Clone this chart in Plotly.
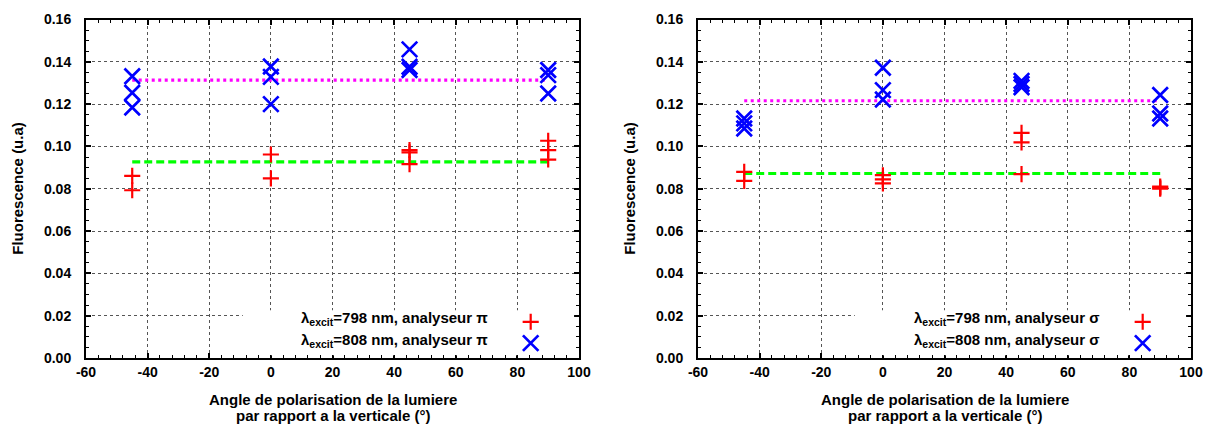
import plotly.graph_objects as go

# ---------------- data ----------------
ANGLES = [-45, 0, 45, 90]

# left panel: analyseur pi
pi_798_x = [-45, -45, 0, 0, 45, 45, 45, 90, 90, 90]
pi_798_y = [0.0861, 0.0793, 0.0962, 0.0849, 0.0983, 0.0972, 0.0916, 0.1027, 0.0983, 0.0938]
pi_808_x = [-45, -45, -45, 0, 0, 0, 45, 45, 45, 90, 90, 90]
pi_808_y = [0.1332, 0.1254, 0.1184, 0.1378, 0.1329, 0.1200, 0.1459, 0.1377, 0.1361, 0.1361, 0.1337, 0.1250]
pi_mean_798 = 0.0927
pi_mean_808 = 0.1313

# right panel: analyseur sigma
sig_798_x = [-45, -45, 0, 0, 0, 45, 45, 45, 90, 90, 90]
sig_798_y = [0.0880, 0.0837, 0.0864, 0.0844, 0.0825, 0.1064, 0.1019, 0.0869, 0.0810, 0.0805, 0.0800]
sig_808_x = [-45, -45, -45, 0, 0, 0, 45, 45, 45, 90, 90, 90]
sig_808_y = [0.1132, 0.1109, 0.1085, 0.1372, 0.1266, 0.1222, 0.1310, 0.1295, 0.1280, 0.1243, 0.1156, 0.1132]
sig_mean_798 = 0.0872
sig_mean_808 = 0.1216

FIT_X = [-45, 90]

x_ticks = [-60, -40, -20, 0, 20, 40, 60, 80, 100]
x_ticklabels = ["-60", "-40", "-20", "0", "20", "40", "60", "80", "100"]
y_ticks = [0.00, 0.02, 0.04, 0.06, 0.08, 0.10, 0.12, 0.14, 0.16]
y_ticklabels = ["0.00", "0.02", "0.04", "0.06", "0.08", "0.10", "0.12", "0.14", "0.16"]

legend_pi = ["λ<sub>excit</sub>=798 nm, analyseur π", "λ<sub>excit</sub>=808 nm, analyseur π"]
legend_sig = ["λ<sub>excit</sub>=798 nm, analyseur σ", "λ<sub>excit</sub>=808 nm, analyseur σ"]
x_title_lines = ["Angle de polarisation de la lumiere", "par rapport a la verticale (°)"]
y_title = "Fluorescence (u.a)"

# ---------------- style ----------------
W, H = 1211, 425
OFF = 8  # page body margin
FONT = "Liberation Sans, Arial, sans-serif"
RED = "#ff0000"
BLUE = "#0000ff"
GREEN = "#00ff00"
MAGENTA = "#ff00ff"
X_RANGE = [-60, 100]
Y_RANGE = [0, 0.16]

def px_x(p):
    return (p - OFF) / W

def px_y(p):
    return 1 - (p - OFF) / H

LEFT_DOM = [px_x(86), px_x(579)]
RIGHT_DOM = [px_x(698), px_x(1191)]
Y_DOM = [px_y(358), px_y(19.5)]

fig = go.Figure()

# white legend boxes (on overlay axes, drawn above the grid of the main axes)
BOX_X = [0.318, 0.99, 0.99, 0.318, 0.318]
BOX_Y = [0.008, 0.008, 0.141, 0.141, 0.008]
for xa, ya in (("x3", "y3"), ("x4", "y4")):
    fig.add_trace(go.Scatter(x=BOX_X, y=BOX_Y, xaxis=xa, yaxis=ya, mode="lines", fill="toself",
                             fillcolor="white", line=dict(width=0, color="white"),
                             showlegend=False, hoverinfo="skip"))

def add_panel(xa, ya, x798, y798, x808, y808, m798, m808):
    fig.add_trace(go.Scatter(x=FIT_X, y=[m798, m798], xaxis=xa, yaxis=ya, mode="lines",
                             line=dict(color=GREEN, width=3.2, dash="8px,4px"), showlegend=False))
    fig.add_trace(go.Scatter(x=FIT_X, y=[m808, m808], xaxis=xa, yaxis=ya, mode="lines",
                             line=dict(color=MAGENTA, width=3.2, dash="3px,3.5px"), showlegend=False))
    fig.add_trace(go.Scatter(x=x798, y=y798, xaxis=xa, yaxis=ya, mode="markers",
                             marker=dict(symbol="cross-thin", size=11.5, line=dict(color=RED, width=2.2)),
                             showlegend=False))
    fig.add_trace(go.Scatter(x=x808, y=y808, xaxis=xa, yaxis=ya, mode="markers",
                             marker=dict(symbol="x-thin", size=15.5, line=dict(color=BLUE, width=2.7)),
                             showlegend=False))

# legend keys on overlay axes (domain 0..1)
KEY_X = 0.902
KEY_Y = [0.107, 0.044]
for xa, ya in (("x3", "y3"), ("x4", "y4")):
    fig.add_trace(go.Scatter(x=[KEY_X], y=[KEY_Y[0]], xaxis=xa, yaxis=ya, mode="markers",
                             marker=dict(symbol="cross-thin", size=11.5, line=dict(color=RED, width=2.2)),
                             showlegend=False, hoverinfo="skip"))
    fig.add_trace(go.Scatter(x=[KEY_X], y=[KEY_Y[1]], xaxis=xa, yaxis=ya, mode="markers",
                             marker=dict(symbol="x-thin", size=15.5, line=dict(color=BLUE, width=2.7)),
                             showlegend=False, hoverinfo="skip"))

# invisible traces so the minor-tick axes get drawn
for xa, ya in (("x5", "y5"), ("x6", "y6")):
    fig.add_trace(go.Scatter(x=[None], y=[None], xaxis=xa, yaxis=ya, mode="markers",
                             showlegend=False, hoverinfo="skip"))

add_panel("x", "y", pi_798_x, pi_798_y, pi_808_x, pi_808_y, pi_mean_798, pi_mean_808)
add_panel("x2", "y2", sig_798_x, sig_798_y, sig_808_x, sig_808_y, sig_mean_798, sig_mean_808)

tickfont = dict(family=FONT, size=14, color="black", weight="bold")

def xaxis(dom, anchor):
    return dict(domain=dom, anchor=anchor, range=X_RANGE, tickmode="array", tickvals=x_ticks,
                ticktext=x_ticklabels, ticks="inside", ticklen=5, automargin=False,
                tickwidth=1.5, tickcolor="black", mirror="allticks", showline=True, linewidth=2,
                linecolor="black", showgrid=True, gridcolor="#555", gridwidth=1, griddash="dot",
                zeroline=False, tickfont=tickfont)

def yaxis(anchor):
    return dict(domain=Y_DOM, anchor=anchor, range=Y_RANGE, tickmode="array", tickvals=y_ticks,
                ticktext=y_ticklabels, ticks="inside", automargin=False, ticklabelstandoff=10,
                ticklen=5, tickwidth=1.5, tickcolor="black", mirror="allticks", showline=True,
                linewidth=2, linecolor="black", showgrid=True, gridcolor="#555", gridwidth=1,
                griddash="dot", zeroline=False, tickfont=tickfont)

def minor_axis(dom, anchor, rng, dtick):
    return dict(domain=dom, anchor=anchor, range=rng, tickmode="linear", tick0=rng[0], dtick=dtick,
                ticks="inside", ticklen=3, tickwidth=1.2, tickcolor="black", showticklabels=False,
                showgrid=False, zeroline=False, showline=False, mirror="allticks", automargin=False,
                fixedrange=True)

def overlay(dom, anchor):
    return dict(domain=dom, range=[0, 1], visible=False, fixedrange=True, anchor=anchor)

fig.update_layout(
    width=W, height=H, margin=dict(l=0, r=0, t=0, b=0, autoexpand=False),
    paper_bgcolor="white", plot_bgcolor="rgba(0,0,0,0)",
    font=dict(family=FONT, color="black"),
    xaxis=xaxis(LEFT_DOM, "y"),
    yaxis=yaxis("x"),
    xaxis2=xaxis(RIGHT_DOM, "y2"),
    yaxis2=yaxis("x2"),
    xaxis3=overlay(LEFT_DOM, "y3"),
    yaxis3=overlay(Y_DOM, "x3"),
    xaxis4=overlay(RIGHT_DOM, "y4"),
    yaxis4=overlay(Y_DOM, "x4"),
    xaxis5=minor_axis(LEFT_DOM, "y5", X_RANGE, 4),
    yaxis5=minor_axis(Y_DOM, "x5", Y_RANGE, 0.005),
    xaxis6=minor_axis(RIGHT_DOM, "y6", X_RANGE, 4),
    yaxis6=minor_axis(Y_DOM, "x6", Y_RANGE, 0.005),
    showlegend=False,
)

legfont = dict(family=FONT, size=15, color="black", weight="bold")
titlefont = dict(family=FONT, size=15, color="black", weight="bold")
for xr, yr, labels in (("x domain", "y domain", legend_pi), ("x2 domain", "y2 domain", legend_sig)):
    for lab, yy in zip(labels, [0.118, 0.053]):
        fig.add_annotation(text=lab, xref=xr, yref=yr, x=0.82, y=yy, xanchor="right", yanchor="middle",
                           showarrow=False, font=legfont)
    for line, yp in zip(x_title_lines, [399, 415]):
        fig.add_annotation(text=line, xref=xr, yref="paper", x=0.5, y=px_y(yp), xanchor="center",
                           yanchor="middle", showarrow=False, font=titlefont)

for yr, xp in (("y domain", 18), ("y2 domain", 630)):
    fig.add_annotation(text=y_title, xref="paper", yref=yr, x=px_x(xp), y=0.5, textangle=-90,
                       xanchor="center", yanchor="middle", showarrow=False, font=titlefont)

fig.write_html("out.html")
